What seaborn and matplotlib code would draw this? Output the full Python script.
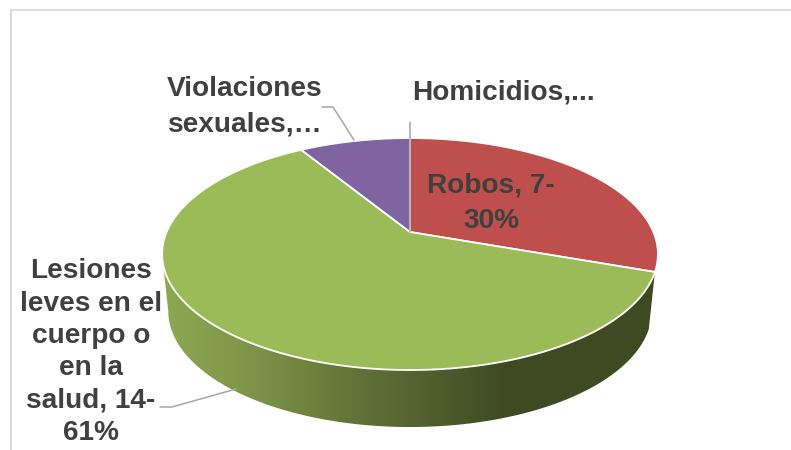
import numpy as np
import matplotlib
matplotlib.use("Agg")
import matplotlib.pyplot as plt
from matplotlib.patches import Polygon
import seaborn as sns

# Chart data
categories = ["Homicidios", "Robos", "Lesiones leves en el cuerpo o en la salud", "Violaciones sexuales"]
counts = [0, 7, 14, 2]
slice_colors = ["#4F81BD", "#BE4F4C", "#9BBB59", "#8064A2"]
side_colors = ["#8BA851", "#7F9448", "#66793A", "#52612F", "#3F4A22"]

sns.set_theme(style="white")
plt.rcParams["font.family"] = ["Liberation Sans", "DejaVu Sans"]

fig, ax = plt.subplots(figsize=(7.91, 4.5), dpi=100)
ax.set_position([0, 0, 1, 1])
ax.axis("off")

# perspective of the tilted disc, fitted to the picture
cx, cy = 410, 232
scale_x, scale_y, tilt = 243.4, 111.8, 0.19
depth = 57


def rim(deg, shrink=1.0, drop=0):
    a = np.radians(deg)
    u, v = np.sin(a), -np.cos(a)
    w = 1 - tilt * v
    return cx + shrink * scale_x * u / w, cy + scale_y * v / w + drop


# angles clockwise from the top
edges = np.cumsum([0] + counts) / sum(counts) * 360

# side of the green slice, a left to right gradient clipped to the wall
gradient = np.array(sns.blend_palette(side_colors, 100))
xs = np.arange(150, 670)
idx = np.clip((xs - 165) / (505 - 165) * 99, 0, 99).astype(int)
img = ax.imshow(gradient[idx][None, :, :], extent=[150, 670, 440, 240], aspect="auto", zorder=1)
angs = np.linspace(edges[2], edges[3], 400)
x1, y1 = rim(angs)
x2, y2 = rim(angs, shrink=0.975, drop=depth)
# stop both rims at their leftmost point so the wall has a straight left side
i1, i2 = np.argmin(x1) + 1, np.argmin(x2) + 1
wall = Polygon(np.c_[np.r_[x1[:i1], x2[:i2][::-1]], np.r_[y1[:i1], y2[:i2][::-1]]], transform=ax.transData)
img.set_clip_path(wall)

# top of the pie
for start, end, col in zip(edges[:-1], edges[1:], slice_colors):
    if end == start:
        continue
    angs = np.linspace(start, end, 200)
    x, y = rim(angs)
    ax.fill(np.r_[cx, x], np.r_[cy, y], facecolor=col, edgecolor="white", lw=1.3, zorder=2)

# leader lines
line_col = "#A6A6A6"
ax.plot([322, 333, 354], [107, 107, 140], color=line_col, lw=1.1, zorder=3)
ax.plot([409.5, 409.5], [122, 232], color=line_col, lw=1.1, zorder=3)
ax.plot([160, 172, 236], [407, 407, 389], color=line_col, lw=1.1, zorder=3)

# labels
text_col = "#404040"
label_kw = dict(color=text_col, fontsize=20.2, fontweight="bold", zorder=4)
ax.text(245, 107, "Violaciones\nsexuales,\u2026", ha="center", va="center", linespacing=1.48, **label_kw)
ax.text(412, 92, "Homicidios,...", ha="left", va="center", **label_kw)
ax.text(491, 203.5, "Robos, 7-\n30%", ha="center", va="center", linespacing=1.46, **label_kw)
ax.text(91, 352, "Lesiones\nleves en el\ncuerpo o\nen la\nsalud, 14-\n61%", ha="center", va="center", linespacing=1.31, **label_kw)

# chart frame, only top and left show
frame_col = "#D9D9D9"
ax.plot([10.5, 10.5], [450, 9.5], color=frame_col, lw=1.5, zorder=0)
ax.plot([10.5, 791], [9.5, 9.5], color=frame_col, lw=1.2, zorder=0)

ax.set_xlim(0, 791)
ax.set_ylim(450, 0)

fig.savefig("out.png", dpi=100)
